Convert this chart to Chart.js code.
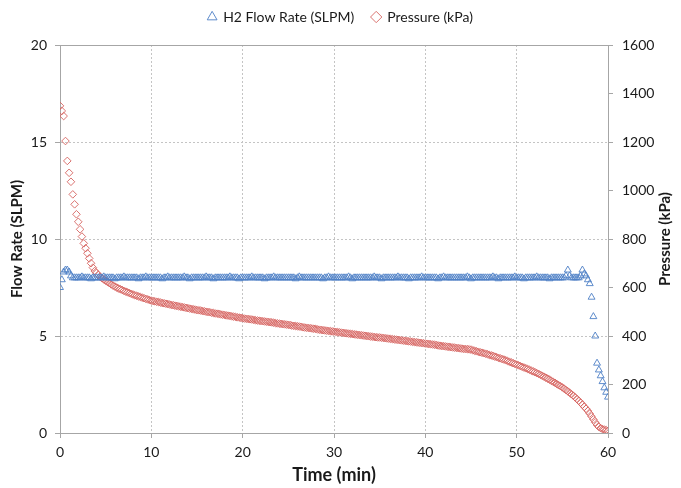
<!DOCTYPE html>
<html>
<head>
<meta charset="utf-8">
<script src="https://cdn.jsdelivr.net/npm/chart.js@4"></script>
<style>
  html, body { margin: 0; padding: 0; background: #fff; }
  #wrap { width: 681px; height: 488px; }
</style>
</head>
<body>
<div id="wrap"><canvas id="myChart" width="681" height="488"></canvas></div>
<script>
// datos, muestreo cada 0.2 min
const pasoTiempo = 0.2;

const presion = [
    1349, 1328, 1307, 1204, 1122, 1073, 1036, 984, 943, 902,
    871, 840, 810, 782, 762, 741, 720, 700, 682, 668,
    660, 652, 644, 638, 633, 628, 623, 618, 613, 608,
    604, 600, 596, 593, 590, 586, 583, 580, 577, 574,
    571, 568, 566, 563, 561, 558, 556, 553, 551, 548,
    546, 544, 543, 541, 540, 538, 536, 535, 533, 532,
    530, 528, 527, 525, 524, 522, 521, 519, 518, 516,
    515, 513, 512, 510, 509, 507, 506, 505, 503, 502,
    500, 499, 498, 496, 495, 493, 492, 491, 489, 488,
    487, 485, 484, 483, 481, 480, 479, 477, 476, 475,
    473, 472, 471, 470, 469, 468, 467, 465, 464, 463,
    462, 461, 460, 459, 458, 457, 456, 455, 453, 452,
    451, 450, 449, 448, 447, 446, 445, 443, 442, 441,
    440, 439, 438, 436, 435, 434, 433, 432, 431, 430,
    429, 427, 426, 425, 424, 423, 422, 421, 420, 419,
    418, 417, 416, 415, 414, 413, 412, 411, 410, 409,
    408, 407, 406, 405, 404, 403, 402, 401, 400, 399,
    398, 397, 396, 395, 394, 394, 393, 392, 391, 390,
    389, 388, 387, 386, 385, 384, 383, 382, 381, 380,
    379, 378, 377, 376, 375, 374, 373, 372, 371, 370,
    369, 368, 367, 366, 365, 364, 363, 361, 360, 359,
    358, 357, 356, 355, 354, 353, 352, 351, 350, 349,
    348, 347, 346, 346, 345, 344, 341, 339, 337, 335,
    333, 331, 329, 327, 325, 322, 320, 318, 315, 313,
    310, 308, 305, 303, 300, 297, 294, 291, 288, 285,
    282, 279, 276, 273, 270, 267, 264, 261, 257, 254,
    251, 247, 244, 240, 236, 232, 228, 224, 220, 215,
    211, 207, 202, 197, 193, 188, 183, 177, 172, 166,
    160, 154, 147, 140, 133, 125, 117, 108, 100, 91,
    80, 68, 56, 44, 33, 25, 20, 16, 14, 12,
    9
];

const flujo = [
    7.5, 7.9, 8.3, 8.4, 8.4, 8.3, 8.1, 8.0, 8.0, 8.0,
    8.0, 8.0, 8.05, 8.0, 8.0, 8.0, 8.0, 7.95, 8.0, 8.0,
    8.0, 8.0, 8.0, 8.0, 8.05, 8.0, 8.0, 8.0, 8.0, 8.0,
    7.95, 8.0, 8.0, 8.0, 8.0, 8.05, 8.0, 8.0, 8.0, 8.0,
    8.0, 8.0, 8.0, 7.95, 8.0, 8.0, 8.0, 8.05, 8.0, 8.0,
    8.0, 8.0, 8.0, 8.0, 8.0, 8.0, 7.95, 8.0, 8.0, 8.05,
    8.0, 8.0, 8.0, 8.0, 8.0, 8.0, 8.0, 8.0, 8.05, 8.0,
    8.0, 7.95, 8.0, 8.0, 8.0, 8.0, 8.0, 8.0, 8.0, 8.0,
    8.05, 8.0, 8.0, 8.0, 7.95, 8.0, 8.0, 8.0, 8.0, 8.0,
    8.0, 8.0, 8.0, 8.05, 8.0, 8.0, 8.0, 8.0, 7.95, 8.0,
    8.0, 8.0, 8.0, 8.0, 8.0, 8.05, 8.0, 8.0, 8.0, 8.0,
    8.0, 8.0, 7.95, 8.0, 8.0, 8.0, 8.0, 8.05, 8.0, 8.0,
    8.0, 8.0, 8.0, 8.0, 8.0, 8.0, 8.0, 8.0, 8.0, 7.95,
    8.0, 8.05, 8.0, 8.0, 8.0, 8.0, 8.0, 8.0, 8.0, 8.0,
    8.0, 8.0, 8.0, 8.0, 7.95, 8.0, 8.0, 8.05, 8.0, 8.0,
    8.0, 8.0, 8.0, 8.0, 8.0, 8.0, 8.0, 8.0, 8.05, 8.0,
    7.95, 8.0, 8.0, 8.0, 8.0, 8.0, 8.0, 8.0, 8.0, 8.0,
    8.0, 8.0, 8.05, 8.0, 8.0, 8.0, 7.95, 8.0, 8.0, 8.0,
    8.0, 8.0, 8.0, 8.0, 8.0, 8.05, 8.0, 8.0, 8.0, 8.0,
    8.0, 7.95, 8.0, 8.0, 8.0, 8.0, 8.0, 8.0, 8.05, 8.0,
    8.0, 8.0, 8.0, 8.0, 8.0, 8.0, 8.0, 7.95, 8.0, 8.0,
    8.05, 8.0, 8.0, 8.0, 8.0, 8.0, 8.0, 8.0, 8.0, 8.0,
    8.0, 8.0, 8.0, 8.05, 8.0, 7.95, 8.0, 8.0, 8.0, 8.0,
    8.0, 8.0, 8.0, 8.0, 8.0, 8.0, 8.0, 8.05, 8.0, 8.0,
    7.95, 8.0, 8.0, 8.0, 8.0, 8.0, 8.0, 8.0, 8.0, 8.05,
    8.0, 8.0, 8.0, 8.0, 7.95, 8.0, 8.0, 8.0, 8.0, 8.0,
    8.0, 8.05, 8.0, 8.0, 8.0, 8.0, 8.0, 8.0, 7.95, 8.0,
    8.0, 8.0, 8.0, 8.0, 8.0, 8.0, 8.0, 8.1, 8.4, 8.1,
    8.0, 8.0, 8.0, 8.0, 8.0, 8.1, 8.4, 8.2, 8.1, 7.9,
    7.7, 7.0, 6.0, 5.0, 3.6, 3.25, 2.95, 2.65, 2.33, 2.1,
    1.85
];

const ticksTiempo = [0, 10, 20, 30, 40, 50, 60];
const ticksFlujo = [0, 5, 10, 15, 20];
const ticksPresion = [0, 200, 400, 600, 800, 1000, 1200, 1400, 1600];

const fuente = "Lato, 'Open Sans', sans-serif";
const colorTexto = '#1a1a1a';
const colorGrid = '#c4c4c4';
const colorEje = '#a6a6a6';

const puntosFlujo = flujo.map((v, i) => ({ x: i * pasoTiempo, y: v }));
const puntosPresion = presion.map((v, i) => ({ x: i * pasoTiempo, y: v }));

// la leyenda sube un poco y deja espacio hasta el area de la grafica
const espacioLeyenda = {
    id: 'espacioLeyenda',
    beforeInit(chart) {
        const fitOriginal = chart.legend.fit;
        chart.legend.fit = function () {
            fitOriginal.bind(chart.legend)();
            this.height += 11;
        };
    }
};

// linea superior del area y titulo del eje derecho
const extras = {
    id: 'extras',
    afterDraw(chart) {
        const { ctx, chartArea } = chart;
        ctx.save();
        ctx.strokeStyle = colorEje;
        ctx.lineWidth = 1;
        ctx.beginPath();
        ctx.moveTo(chartArea.left, Math.round(chartArea.top) + 0.5);
        ctx.lineTo(chartArea.right, Math.round(chartArea.top) + 0.5);
        ctx.stroke();

        ctx.translate(665, (chartArea.top + chartArea.bottom) / 2);
        ctx.rotate(-Math.PI / 2);
        ctx.fillStyle = colorTexto;
        ctx.font = "bold 15px " + fuente;
        ctx.textAlign = 'center';
        ctx.textBaseline = 'middle';
        ctx.fillText('Pressure (kPa)', 0, 0);
        ctx.restore();
    }
};

const ctx = document.getElementById('myChart');

const grafica = new Chart(ctx, {
    type: 'scatter',
    data: {
        datasets: [{
            label: 'H2 Flow Rate (SLPM)',
            data: puntosFlujo,
            yAxisID: 'y',
            pointStyle: 'triangle',
            pointRadius: 4,
            pointBorderWidth: 1,
            borderColor: 'rgba(79, 129, 199, 0.9)',
            backgroundColor: 'rgba(255, 255, 255, 0)',
            pointBackgroundColor: 'rgba(255, 255, 255, 0)'
        }, {
            label: 'Pressure (kPa)',
            data: puntosPresion,
            yAxisID: 'y2',
            pointStyle: 'rectRot',
            pointRadius: 3.8,
            pointBorderWidth: 1,
            borderColor: 'rgba(214, 100, 96, 0.9)',
            backgroundColor: 'rgba(255, 255, 255, 0)',
            pointBackgroundColor: 'rgba(255, 255, 255, 0)'
        }]
    },
    options: {
        responsive: false,
        animation: false,
        layout: { padding: { top: -8, left: 0, right: 0, bottom: 0 } },
        plugins: {
            legend: {
                position: 'top',
                labels: {
                    usePointStyle: true,
                    boxWidth: 8,
                    boxHeight: 8,
                    padding: 18,
                    color: colorTexto,
                    font: { family: fuente, size: 14 }
                }
            },
            tooltip: { enabled: false }
        },
        scales: {
            x: {
                type: 'linear',
                min: 0,
                max: 60,
                afterBuildTicks: (eje) => { eje.ticks = ticksTiempo.map(v => ({ value: v })); },
                afterFit: (eje) => { eje.height = 55; },
                grid: { color: colorGrid, tickColor: colorEje, tickLength: 5, drawOnChartArea: true },
                border: { color: colorEje, dash: [2, 2] },
                ticks: { color: colorTexto, padding: 6, font: { family: fuente, size: 14 } },
                title: {
                    display: true,
                    text: 'Time (min)',
                    color: colorTexto,
                    padding: { top: 0, bottom: 2 },
                    font: { family: fuente, size: 18, weight: 'bold' }
                }
            },
            y: {
                position: 'left',
                min: 0,
                max: 20,
                afterBuildTicks: (eje) => { eje.ticks = ticksFlujo.map(v => ({ value: v })); },
                afterFit: (eje) => { eje.width = 60; },
                grid: { color: colorGrid, tickColor: colorEje, tickLength: 5 },
                border: { color: colorEje, dash: [2, 2] },
                ticks: { color: colorTexto, padding: 8, font: { family: fuente, size: 14 } },
                title: {
                    display: true,
                    text: 'Flow Rate (SLPM)',
                    color: colorTexto,
                    padding: { top: 8, bottom: 0 },
                    font: { family: fuente, size: 15, weight: 'bold' }
                }
            },
            y2: {
                position: 'right',
                min: 0,
                max: 1600,
                afterBuildTicks: (eje) => { eje.ticks = ticksPresion.map(v => ({ value: v })); },
                afterFit: (eje) => { eje.width = 73; },
                grid: { drawOnChartArea: false, tickColor: colorEje, tickLength: 5 },
                border: { color: colorEje },
                ticks: {
                    color: colorTexto,
                    padding: 9,
                    font: { family: fuente, size: 14 },
                    callback: (valor) => String(valor)
                }
            }
        }
    },
    plugins: [espacioLeyenda, extras]
});
</script>
</body>
</html>
